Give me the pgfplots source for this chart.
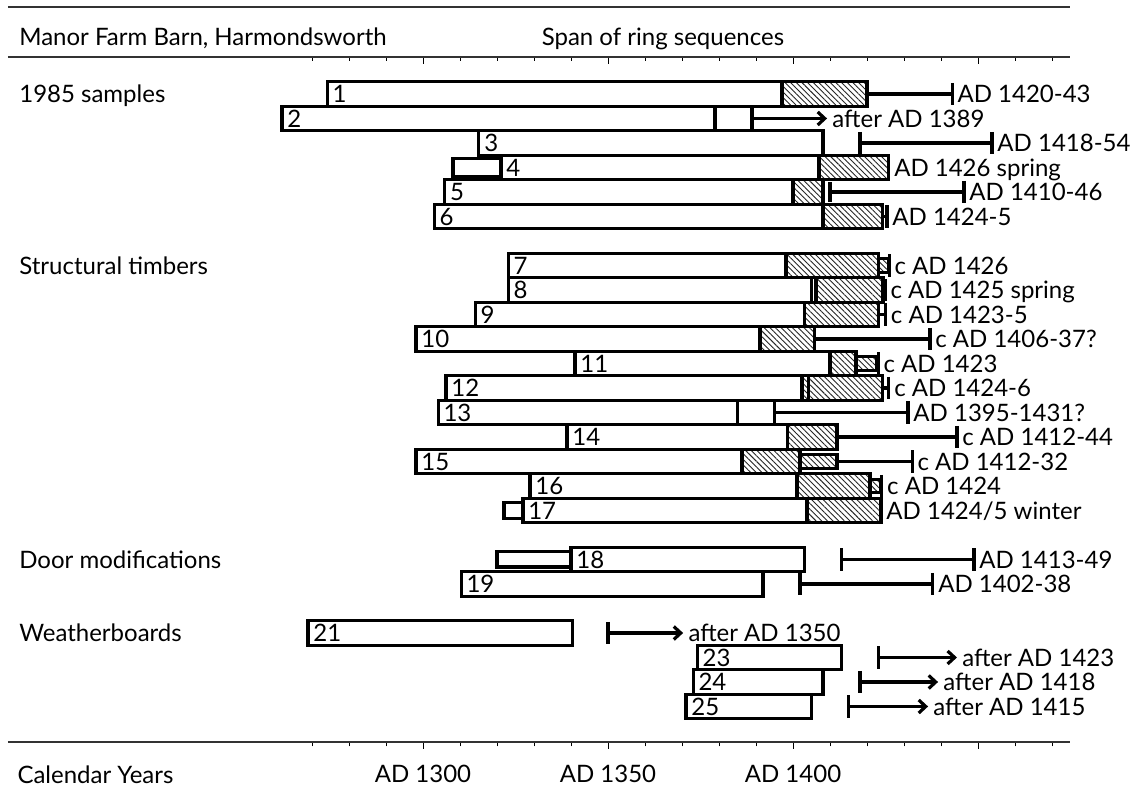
\documentclass[border=0pt]{standalone}
\usepackage{fontspec}
\setmainfont{Lato}
\usepackage{pgfplots}
\pgfplotsset{compat=1.18}
\usetikzlibrary{patterns.meta,arrows.meta}
\newcommand{\fs}{\fontsize{12pt}{14pt}\selectfont}
\tikzset{
  bx/.style={draw=black, line width=1.6pt, line join=miter, mark=none},
  wb/.style={bx, fill=white},
  hb/.style={bx, preaction={fill=white}, pattern={Lines[angle=-45,distance=2pt,line width=0.45pt]}, pattern color=black!85},
  wk/.style={draw=black, line width=1.6pt, mark=none},
  arr/.style={wk, -{Straight Barb[length=3.5pt,width=6.5pt]}},
  lab/.style={anchor=base west, inner sep=0pt, font=\fs},
  num/.style={anchor=base west, inner sep=0pt, font=\fs, xshift=2.5pt},
}
% box: [style]{x0}{x1}{ytop}{ybottom}
\newcommand{\rbox}[5][wb]{\addplot[#1] coordinates {(#2,#4) (#3,#4) (#3,#5) (#2,#5)} --cycle;}
% segment: [style]{x0}{x1}{y}
\newcommand{\seg}[4][wk]{\addplot[#1] coordinates {(#2,#4) (#3,#4)};}
% bar: {x}{ytop}{ybottom}
\newcommand{\vbar}[3]{\addplot[wk] coordinates {(#1,#2) (#1,#3)};}
\begin{document}
\begin{tikzpicture}
\path[use as bounding box] (-4pt,-24.5pt) rectangle (566.5pt,371pt);
% top ticks on the header rule
\begin{axis}[
  at={(0,0)}, anchor=south west, scale only axis,
  width=531pt, height=342.5pt,
  xmin=1187.84, xmax=1474.86, ymin=-26.449, ymax=1.510,
  axis x line*=top, axis y line=none,
  tick align=inside,
  xtick={1300,1350,1400,1450}, xticklabels={},
  minor xtick={1270,1280,...,1470},
  major tick length=3.5pt, minor tick length=2.2pt,
  every tick/.style={black, line width=0.5pt},
  axis line style={black!80, line width=0.7pt},
]
\end{axis}
\begin{axis}[
  at={(0,0)}, anchor=south west, scale only axis,
  width=531pt, height=342.5pt,
  xmin=1187.84, xmax=1474.86, ymin=-26.449, ymax=1.510,
  axis x line*=bottom, axis y line=none,
  tick align=outside,
  xtick={1300,1350,1400,1450},
  xticklabels={AD 1300,AD 1350,AD 1400,{}},
  minor xtick={1270,1280,...,1470},
  major tick length=3.5pt, minor tick length=2.2pt,
  every tick/.style={black, line width=0.5pt},
  axis line style={black!80, line width=0.7pt},
  xticklabel style={font=\fs, anchor=base, yshift=-17pt},
  clip=false,
]
% header rule
\draw[black!80, line width=0.7pt] (axis cs:1187.84,3.551) -- (axis cs:1474.86,3.551);

% ---- 1985 samples ----
% 1
\rbox{1274.1}{1397.0}{0.5}{-0.5}
\rbox[hb]{1397.0}{1420.0}{0.5}{-0.5}
\seg{1420.0}{1443.0}{0}
\vbar{1443.0}{0.45}{-0.45}
% 2
\rbox{1261.9}{1378.9}{-0.5}{-1.5}
\rbox{1378.9}{1388.9}{-0.5}{-1.5}
\seg[arr]{1388.9}{1409.2}{-1}
% 3
\rbox{1315.1}{1408.1}{-1.5}{-2.5}
\seg{1418.1}{1453.8}{-2}
\vbar{1418.1}{-1.55}{-2.45}
\vbar{1453.8}{-1.55}{-2.45}
% 4
\rbox{1308.1}{1321.1}{-2.63}{-3.37}
\rbox{1321.1}{1407.0}{-2.5}{-3.5}
\rbox[hb]{1407.0}{1425.9}{-2.5}{-3.5}
% 5
\rbox{1305.9}{1400.0}{-3.5}{-4.5}
\rbox[hb]{1400.0}{1408.1}{-3.5}{-4.5}
\seg{1410.0}{1446.2}{-4}
\vbar{1410.0}{-3.6}{-4.4}
\vbar{1446.2}{-3.55}{-4.45}
% 6
\rbox{1303.0}{1408.1}{-4.5}{-5.5}
\rbox[hb]{1408.1}{1424.1}{-4.5}{-5.5}
\seg{1424.1}{1425.4}{-5}
\vbar{1425.4}{-4.55}{-5.45}

% ---- Structural timbers ----
% 7
\rbox{1323.0}{1398.1}{-6.5}{-7.5}
\rbox[hb]{1398.1}{1423.0}{-6.5}{-7.5}
\rbox[hb]{1423.0}{1425.7}{-6.7}{-7.3}
\vbar{1426.0}{-6.55}{-7.45}
% 8
\rbox{1323.0}{1406.2}{-7.5}{-8.5}
\vbar{1405.1}{-7.5}{-8.5}
\rbox[hb]{1406.2}{1424.3}{-7.5}{-8.5}
\vbar{1424.9}{-7.55}{-8.45}
% 9
\rbox{1314.1}{1403.2}{-8.5}{-9.5}
\rbox[hb]{1403.2}{1423.0}{-8.5}{-9.5}
\seg{1423.0}{1425.0}{-9}
\vbar{1425.0}{-8.55}{-9.45}
% 10
\rbox{1298.1}{1391.1}{-9.5}{-10.5}
\rbox[hb]{1391.1}{1405.9}{-9.5}{-10.5}
\seg{1405.9}{1437.0}{-10}
\vbar{1437.0}{-9.55}{-10.45}
% 11
\rbox{1341.1}{1410.0}{-10.5}{-11.5}
\rbox[hb]{1410.0}{1417.0}{-10.5}{-11.5}
\rbox[hb]{1417.0}{1422.7}{-10.7}{-11.3}
\vbar{1423.0}{-10.55}{-11.45}
% 12
\rbox{1306.2}{1402.4}{-11.5}{-12.5}
\rbox[hb]{1402.4}{1404.1}{-11.5}{-12.5}
\rbox[hb]{1404.1}{1424.1}{-11.5}{-12.5}
\seg{1424.1}{1425.9}{-12}
\vbar{1425.9}{-11.55}{-12.45}
% 13
\rbox{1304.1}{1385.1}{-12.5}{-13.5}
\rbox{1385.1}{1395.1}{-12.5}{-13.5}
\seg{1395.1}{1431.1}{-13}
\vbar{1431.1}{-12.55}{-13.45}
% 14
\rbox{1338.9}{1398.4}{-13.5}{-14.5}
\rbox[hb]{1398.4}{1411.9}{-13.5}{-14.5}
\seg{1411.9}{1444.3}{-14}
\vbar{1444.3}{-13.55}{-14.45}
% 15
\rbox{1298.1}{1386.2}{-14.5}{-15.5}
\rbox[hb]{1386.2}{1401.9}{-14.5}{-15.5}
\rbox[hb]{1401.9}{1411.9}{-14.7}{-15.3}
\seg{1411.9}{1432.2}{-15}
\vbar{1432.2}{-14.55}{-15.45}
% 16
\rbox{1328.9}{1401.1}{-15.5}{-16.5}
\rbox[hb]{1401.1}{1420.8}{-15.5}{-16.5}
\rbox[hb]{1420.8}{1423.8}{-15.72}{-16.28}
\vbar{1424.0}{-15.55}{-16.45}
% 17
\rbox{1321.9}{1327.0}{-16.67}{-17.33}
\rbox{1327.0}{1403.8}{-16.5}{-17.5}
\rbox[hb]{1403.8}{1423.8}{-16.5}{-17.5}

% ---- Door modifications ----
% 18
\rbox{1320.0}{1340.0}{-18.69}{-19.31}
\rbox{1340.0}{1403.0}{-18.5}{-19.5}
\seg{1413.2}{1448.9}{-19}
\vbar{1413.2}{-18.55}{-19.45}
\vbar{1448.9}{-18.55}{-19.45}
% 19
\rbox{1310.3}{1391.9}{-19.5}{-20.5}
\seg{1401.9}{1437.8}{-20}
\vbar{1401.9}{-19.55}{-20.45}
\vbar{1437.8}{-19.55}{-20.45}

% ---- Weatherboards ----
% 21
\rbox{1268.9}{1340.3}{-21.5}{-22.5}
\seg[arr]{1350.0}{1370.3}{-22}
\vbar{1350.0}{-21.55}{-22.45}
% 23
\rbox{1374.1}{1413.0}{-22.5}{-23.5}
\seg[arr]{1423.0}{1444.3}{-23}
\vbar{1423.0}{-22.55}{-23.45}
% 24
\rbox{1373.0}{1408.1}{-23.5}{-24.5}
\seg[arr]{1418.1}{1439.2}{-24}
\vbar{1418.1}{-23.55}{-24.45}
% 25
\rbox{1371.1}{1405.1}{-24.5}{-25.5}
\seg[arr]{1414.9}{1436.5}{-25}
\vbar{1414.9}{-24.55}{-25.45}

% ---- texts ----
\node[lab] at (axis cs:1190.8,1.976) {Manor Farm Barn, Harmondsworth};
\node[lab] at (axis cs:1332.0,1.976) {Span of ring sequences};
\node[lab] at (axis cs:1190.8,-0.35) {1985 samples};
\node[lab] at (axis cs:1190.8,-7.35) {Structural timbers};
\node[lab] at (axis cs:1190.8,-19.35) {Door modifications};
\node[lab] at (axis cs:1190.8,-22.35) {Weatherboards};
\node[lab] at (axis cs:1190.3,-28.16) {Calendar Years};

% numbers
\node[num] at (axis cs:1274.1,-0.35) {1};
\node[num] at (axis cs:1261.9,-1.35) {2};
\node[num] at (axis cs:1315.1,-2.35) {3};
\node[num] at (axis cs:1321.1,-3.35) {4};
\node[num] at (axis cs:1305.9,-4.35) {5};
\node[num] at (axis cs:1303.0,-5.35) {6};
\node[num] at (axis cs:1323.0,-7.35) {7};
\node[num] at (axis cs:1323.0,-8.35) {8};
\node[num] at (axis cs:1314.1,-9.35) {9};
\node[num] at (axis cs:1298.1,-10.35) {10};
\node[num] at (axis cs:1341.1,-11.35) {11};
\node[num] at (axis cs:1306.2,-12.35) {12};
\node[num] at (axis cs:1304.1,-13.35) {13};
\node[num] at (axis cs:1338.9,-14.35) {14};
\node[num] at (axis cs:1298.1,-15.35) {15};
\node[num] at (axis cs:1328.9,-16.35) {16};
\node[num] at (axis cs:1327.0,-17.35) {17};
\node[num] at (axis cs:1340.0,-19.35) {18};
\node[num] at (axis cs:1310.3,-20.35) {19};
\node[num] at (axis cs:1268.9,-22.35) {21};
\node[num] at (axis cs:1374.1,-23.35) {23};
\node[num] at (axis cs:1373.0,-24.35) {24};
\node[num] at (axis cs:1371.1,-25.35) {25};

% right labels
\node[num] at (axis cs:1443.0,-0.35) {AD 1420-43};
\node[num] at (axis cs:1409.2,-1.35) {after AD 1389};
\node[num] at (axis cs:1453.8,-2.35) {AD 1418-54};
\node[num] at (axis cs:1425.9,-3.35) {AD 1426 spring};
\node[num] at (axis cs:1446.2,-4.35) {AD 1410-46};
\node[num] at (axis cs:1425.4,-5.35) {AD 1424-5};
\node[num] at (axis cs:1426.0,-7.35) {c AD 1426};
\node[num] at (axis cs:1424.9,-8.35) {c AD 1425 spring};
\node[num] at (axis cs:1425.0,-9.35) {c AD 1423-5};
\node[num] at (axis cs:1437.0,-10.35) {c AD 1406-37?};
\node[num] at (axis cs:1423.0,-11.35) {c AD 1423};
\node[num] at (axis cs:1425.9,-12.35) {c AD 1424-6};
\node[num] at (axis cs:1431.1,-13.35) {AD 1395-1431?};
\node[num] at (axis cs:1444.3,-14.35) {c AD 1412-44};
\node[num] at (axis cs:1432.2,-15.35) {c AD 1412-32};
\node[num] at (axis cs:1424.0,-16.35) {c AD 1424};
\node[num] at (axis cs:1423.8,-17.35) {AD 1424/5 winter};
\node[num] at (axis cs:1448.9,-19.35) {AD 1413-49};
\node[num] at (axis cs:1437.8,-20.35) {AD 1402-38};
\node[num] at (axis cs:1370.3,-22.35) {after AD 1350};
\node[num] at (axis cs:1444.3,-23.35) {after AD 1423};
\node[num] at (axis cs:1439.2,-24.35) {after AD 1418};
\node[num] at (axis cs:1436.5,-25.35) {after AD 1415};
\end{axis}
\end{tikzpicture}
\end{document}
